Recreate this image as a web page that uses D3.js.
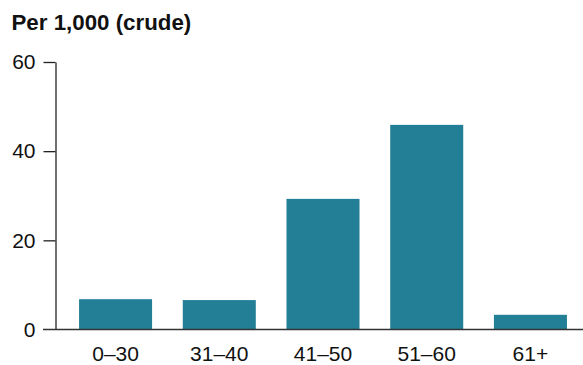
<!DOCTYPE html>
<html><head><meta charset="utf-8">
<script src="https://cdn.jsdelivr.net/npm/d3@7"></script>
<style>
body{margin:0;background:#fff;}
svg{display:block;font-family:"Liberation Sans",Arial,sans-serif;}
</style></head>
<body><svg id="c" width="583" height="365"></svg>
<script>
const categories = ["0\u201330","31\u201340","41\u201350","51\u201360","61+"];
const values = [6.8, 6.6, 29.3, 45.9, 3.3];
const yTicks = [0,20,40,60];

const svg = d3.select("#c");
const x0 = 55.5, yBase = 329.5, yTop = 62;
const x = d3.scaleBand().domain(categories).range([63.5, 582.5]).paddingInner(0.296).paddingOuter(0.15);
const y = d3.scaleLinear().domain([0,60]).range([yBase, yTop]);

svg.append("text").attr("x",11.5).attr("y",30).attr("font-size",22.3).attr("font-weight","bold").attr("fill","#111").text("Per 1,000 (crude)");

svg.selectAll("rect.bar").data(values).enter().append("rect")
  .attr("x",(d,i)=>x(categories[i])).attr("width",x.bandwidth())
  .attr("y",d=>y(d)).attr("height",d=>yBase-y(d)).attr("fill","#237f96");

const ya = svg.append("g").attr("transform",`translate(${x0},0)`)
  .call(d3.axisLeft(y).tickValues(yTicks).tickSize(12).tickSizeOuter(0).tickPadding(8));
ya.select(".domain").attr("stroke","#222").attr("stroke-width",1.3);
ya.selectAll(".tick line").attr("stroke","#222").attr("stroke-width",1.3);
ya.selectAll(".tick").filter(d=>d===0).select("line").remove();
ya.selectAll("text").attr("font-size",21).attr("fill","#111").attr("font-family","Liberation Sans, Arial, sans-serif");

const xa = svg.append("g").attr("transform",`translate(0,${yBase})`)
  .call(d3.axisBottom(x).tickSize(0).tickSizeOuter(0).tickPadding(17));
xa.select(".domain").remove();
svg.append("line").attr("x1",43).attr("x2",583).attr("y1",yBase).attr("y2",yBase).attr("stroke","#333").attr("stroke-width",1.5);
xa.selectAll("text").attr("font-size",21).attr("fill","#111").attr("font-family","Liberation Sans, Arial, sans-serif").attr("dy","0.71em");
</script></body></html>
